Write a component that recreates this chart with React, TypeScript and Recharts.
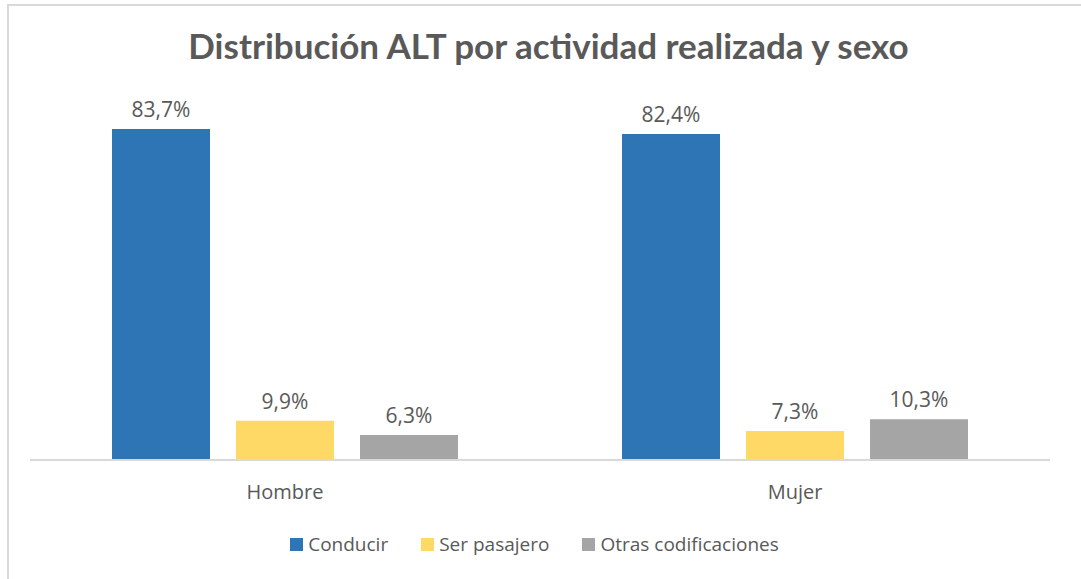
import { BarChart, Bar, XAxis, YAxis, Legend, LabelList } from 'recharts';

const categories = ['Hombre', 'Mujer'];
const conducir = [83.7, 82.4];
const serPasajero = [9.9, 7.3];
const otras = [6.3, 10.3];

const SERIES = [
    { key: 'conducir', name: 'Conducir', color: '#2E75B6' },
    { key: 'pasajero', name: 'Ser pasajero', color: '#FFD966' },
    { key: 'otras', name: 'Otras codificaciones', color: '#A5A5A5' },
];

const data = categories.map((c, i) => ({
    sexo: c,
    conducir: conducir[i],
    pasajero: serPasajero[i],
    otras: otras[i],
}));

const TEXT = '#595959';
const FONT = '"Open Sans", sans-serif';

const fmt = (v: any) => `${Number(v).toFixed(1).replace('.', ',')}%`;

const LegendContent = () => (
    <div style={{ display: 'flex', justifyContent: 'center', alignItems: 'center', fontFamily: FONT, fontSize: 19, color: TEXT, height: 24 }}>
        {SERIES.map((s, i) => (
            <span key={s.key} style={{ display: 'flex', alignItems: 'center', marginRight: i < SERIES.length - 1 ? 33 : 0 }}>
                <span style={{ width: 13, height: 13, background: s.color, display: 'inline-block', marginRight: 5 }} />
                {s.name}
            </span>
        ))}
    </div>
);

export default function App() {
    return (
        <div style={{ position: 'absolute', left: 0, top: 0, width: 1081, height: 579, background: '#fff', overflow: 'hidden' }}>
            <div style={{ position: 'absolute', left: 7, top: 4, width: 1100, height: 600, borderTop: '2px solid #d9d9d9', borderLeft: '2px solid #d9d9d9' }} />
            <div style={{ position: 'absolute', left: 0, top: 24, width: 1097, textAlign: 'center', fontFamily: 'Lato, sans-serif', fontWeight: 700, fontSize: 35, color: TEXT }}>
                Distribución ALT por actividad realizada y sexo
            </div>
            <div style={{ position: 'absolute', left: 0, top: 0 }}>
                <BarChart width={1081} height={579} data={data} margin={{ top: 104, right: 31, left: 30, bottom: 65 }} barGap={26} barCategoryGap={82}>
                    <XAxis dataKey="sexo" axisLine={{ stroke: '#d9d9d9', strokeWidth: 2 }} tickLine={false} height={30}
                        tick={{ fill: TEXT, fontSize: 20, fontFamily: FONT }} dy={17} />
                    <YAxis hide domain={[0, 90]} />
                    <Legend verticalAlign="bottom" content={LegendContent}
                        wrapperStyle={{ top: 532, left: -6, width: 1081 }} />
                    {SERIES.map(s => (
                        <Bar key={s.key} dataKey={s.key} name={s.name} fill={s.color} isAnimationActive={false}>
                            <LabelList dataKey={s.key} position="top" offset={12} formatter={fmt}
                                style={{ fill: TEXT, fontSize: 21, fontFamily: FONT }} />
                        </Bar>
                    ))}
                </BarChart>
            </div>
        </div>
    );
}
